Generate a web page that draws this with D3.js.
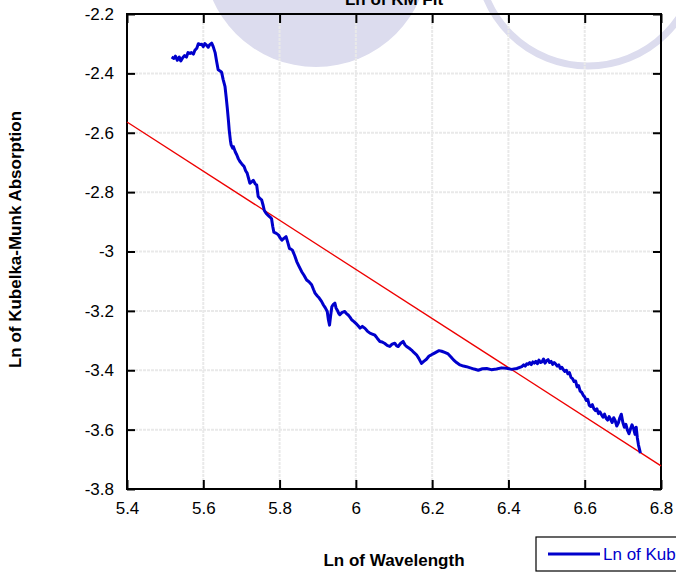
<!DOCTYPE html>
<html><head><meta charset="utf-8">
<script src="https://cdn.jsdelivr.net/npm/d3@7"></script>
<style>html,body{margin:0;padding:0;background:#fff;overflow:hidden}svg{display:block;font-family:Arial,"Liberation Sans",sans-serif}</style>
</head><body><svg id="c" width="676" height="573"></svg>
<script>
const xTicks = [5.4,5.6,5.8,6,6.2,6.4,6.6,6.8];
const yTicks = [-2.2,-2.4,-2.6,-2.8,-3,-3.2,-3.4,-3.6,-3.8];
const wavelength = [5.517,5.523,5.527,5.532,5.537,5.541,5.546,5.551,5.556,5.56,5.565,5.569,5.574,5.578,5.583,5.587,5.592,5.596,5.6,5.604,5.609,5.613,5.617,5.622,5.626,5.631,5.635,5.639,5.644,5.648,5.652,5.657,5.66,5.663,5.666,5.668,5.671,5.673,5.677,5.679,5.684,5.688,5.692,5.696,5.701,5.707,5.711,5.715,5.719,5.722,5.727,5.731,5.736,5.74,5.744,5.749,5.753,5.757,5.76,5.765,5.77,5.775,5.779,5.782,5.785,5.79,5.797,5.802,5.806,5.812,5.817,5.822,5.826,5.83,5.834,5.84,5.845,5.851,5.858,5.864,5.871,5.877,5.884,5.889,5.893,5.899,5.904,5.91,5.915,5.92,5.925,5.928,5.931,5.934,5.937,5.941,5.945,5.948,5.951,5.955,5.958,5.964,5.971,5.976,5.98,5.985,5.989,5.995,6.0,6.006,6.011,6.017,6.024,6.03,6.037,6.043,6.05,6.056,6.063,6.069,6.076,6.082,6.089,6.095,6.102,6.107,6.111,6.117,6.124,6.129,6.133,6.14,6.146,6.152,6.159,6.165,6.172,6.178,6.185,6.192,6.198,6.205,6.212,6.218,6.225,6.233,6.242,6.25,6.256,6.264,6.273,6.282,6.29,6.3,6.31,6.321,6.332,6.343,6.355,6.369,6.382,6.395,6.408,6.422,6.435,6.44,6.444,6.448,6.452,6.456,6.46,6.464,6.468,6.472,6.476,6.48,6.484,6.488,6.492,6.496,6.5,6.504,6.508,6.512,6.516,6.52,6.524,6.528,6.532,6.536,6.54,6.544,6.548,6.552,6.556,6.56,6.564,6.568,6.572,6.576,6.58,6.584,6.588,6.592,6.596,6.6,6.604,6.608,6.612,6.616,6.62,6.624,6.628,6.632,6.636,6.64,6.644,6.648,6.652,6.656,6.66,6.664,6.668,6.672,6.676,6.68,6.684,6.688,6.692,6.696,6.7,6.704,6.708,6.712,6.716,6.72,6.724,6.728,6.732,6.735,6.738,6.741,6.744,6.746];
const absorption = [-2.345,-2.35,-2.342,-2.356,-2.345,-2.358,-2.347,-2.34,-2.345,-2.33,-2.333,-2.33,-2.335,-2.322,-2.315,-2.3,-2.303,-2.302,-2.31,-2.3,-2.306,-2.312,-2.303,-2.298,-2.31,-2.33,-2.36,-2.388,-2.392,-2.396,-2.42,-2.445,-2.48,-2.518,-2.56,-2.591,-2.625,-2.641,-2.652,-2.647,-2.665,-2.675,-2.688,-2.697,-2.705,-2.714,-2.728,-2.736,-2.755,-2.77,-2.765,-2.76,-2.772,-2.776,-2.815,-2.822,-2.826,-2.845,-2.862,-2.872,-2.878,-2.884,-2.89,-2.915,-2.935,-2.938,-2.944,-2.955,-2.962,-2.955,-2.95,-2.972,-2.99,-2.992,-2.996,-3.015,-3.034,-3.05,-3.068,-3.08,-3.096,-3.102,-3.112,-3.128,-3.14,-3.15,-3.157,-3.168,-3.18,-3.19,-3.202,-3.23,-3.248,-3.215,-3.186,-3.178,-3.174,-3.19,-3.197,-3.208,-3.213,-3.205,-3.202,-3.21,-3.214,-3.222,-3.23,-3.236,-3.242,-3.25,-3.258,-3.252,-3.259,-3.268,-3.275,-3.278,-3.282,-3.292,-3.303,-3.305,-3.31,-3.316,-3.32,-3.312,-3.309,-3.318,-3.32,-3.31,-3.303,-3.315,-3.32,-3.326,-3.332,-3.34,-3.348,-3.36,-3.377,-3.37,-3.363,-3.352,-3.348,-3.343,-3.338,-3.334,-3.336,-3.34,-3.345,-3.356,-3.365,-3.374,-3.382,-3.386,-3.388,-3.392,-3.396,-3.4,-3.395,-3.394,-3.398,-3.396,-3.392,-3.393,-3.397,-3.394,-3.388,-3.382,-3.386,-3.378,-3.38,-3.374,-3.381,-3.372,-3.376,-3.37,-3.378,-3.366,-3.374,-3.372,-3.362,-3.376,-3.368,-3.364,-3.374,-3.37,-3.38,-3.374,-3.379,-3.386,-3.382,-3.394,-3.39,-3.398,-3.404,-3.4,-3.412,-3.408,-3.424,-3.428,-3.438,-3.436,-3.456,-3.452,-3.47,-3.474,-3.484,-3.49,-3.502,-3.498,-3.518,-3.522,-3.516,-3.53,-3.536,-3.53,-3.546,-3.54,-3.55,-3.558,-3.548,-3.562,-3.568,-3.556,-3.566,-3.576,-3.56,-3.57,-3.588,-3.578,-3.56,-3.548,-3.576,-3.592,-3.582,-3.602,-3.614,-3.598,-3.584,-3.596,-3.616,-3.592,-3.628,-3.652,-3.668,-3.679];
const fitX = [5.4, 6.8];
const fitY = [-2.564, -3.722];
const seriesName = "Ln of Kubelka-Munk Absorption";
const xTitle = "Ln of Wavelength";
const yTitle = "Ln of Kubelka-Munk Absorption";
const chartTitle = "Ln of KM Fit";

const svg = d3.select("#c");
const L = 127, R = 661, T = 14, B = 489;
const x = d3.scaleLinear().domain([5.4, 6.8]).range([L, R]);
const y = d3.scaleLinear().domain([-3.8, -2.2]).range([B, T]);

// watermark circles
svg.append("circle").attr("cx", 316).attr("cy", -46).attr("r", 113).attr("fill", "#dcdcee");
svg.append("circle").attr("cx", 588).attr("cy", -44).attr("r", 110).attr("fill", "none").attr("stroke", "#dcdcee").attr("stroke-width", 7);

svg.append("text").attr("x", (L+R)/2).attr("y", 5).attr("text-anchor", "middle")
  .attr("font-size", 17).attr("font-weight", "bold").text(chartTitle);

// grid
const grid = svg.append("g");
grid.selectAll("line.gx").data(xTicks.slice(1, -1)).join("line")
  .attr("x1", d => x(d)).attr("x2", d => x(d)).attr("y1", T).attr("y2", B)
  .attr("stroke", "#e9e9e9").attr("stroke-width", 2).attr("stroke-dasharray", "3,1");
grid.selectAll("line.gy").data(yTicks.slice(1, -1)).join("line")
  .attr("y1", d => y(d)).attr("y2", d => y(d)).attr("x1", L).attr("x2", R)
  .attr("stroke", "#e9e9e9").attr("stroke-width", 2).attr("stroke-dasharray", "3,1");

// axes
const fmt = d => String(d);
const ax = (g, axis) => { g.call(axis); g.select(".domain").remove(); g.selectAll(".tick line").attr("stroke", "#000").attr("stroke-width", 2); };
svg.append("g").attr("transform", `translate(0,${B})`).call(g => ax(g, d3.axisBottom(x).tickValues(xTicks).tickFormat(fmt).tickSize(-9).tickPadding(13)))
  .selectAll("text").attr("font-size", 17).attr("fill", "#000").attr("font-family", "Arial, Liberation Sans, sans-serif");
svg.append("g").attr("transform", `translate(0,${T})`).call(g => ax(g, d3.axisTop(x).tickValues(xTicks).tickFormat("").tickSize(-9)));
svg.append("g").attr("transform", `translate(${L},0)`).call(g => ax(g, d3.axisLeft(y).tickValues(yTicks).tickFormat(fmt).tickSize(-8).tickPadding(13)))
  .selectAll("text").attr("font-size", 17).attr("fill", "#000").attr("font-family", "Arial, Liberation Sans, sans-serif");
svg.append("g").attr("transform", `translate(${R},0)`).call(g => ax(g, d3.axisRight(y).tickValues(yTicks).tickFormat("").tickSize(-8)));

svg.append("rect").attr("x", L).attr("y", T).attr("width", R-L).attr("height", B-T)
  .attr("fill", "none").attr("stroke", "#000").attr("stroke-width", 2);

// fit line
svg.append("line").attr("x1", x(fitX[0])).attr("y1", y(fitY[0])).attr("x2", x(fitX[1])).attr("y2", y(fitY[1]))
  .attr("stroke", "#ee0000").attr("stroke-width", 1.3);

// data curve
const pts = wavelength.map((w, i) => [w, absorption[i]]);
svg.append("path").datum(pts).attr("fill", "none").attr("stroke", "#0000cc").attr("stroke-width", 3)
  .attr("stroke-linejoin", "round")
  .attr("d", d3.line().x(d => x(d[0])).y(d => y(d[1])));

// titles
svg.append("text").attr("x", (L+R)/2).attr("y", 566).attr("text-anchor", "middle")
  .attr("font-size", 17).attr("font-weight", "bold").text(xTitle);
svg.append("text").attr("transform", `translate(21,${(T+B)/2 - 12}) rotate(-90)`).attr("text-anchor", "middle")
  .attr("font-size", 17).attr("font-weight", "bold").text(yTitle);

// legend
const lg = svg.append("g");
lg.append("rect").attr("x", 536).attr("y", 537).attr("width", 160).attr("height", 34)
  .attr("fill", "#fff").attr("stroke", "#000").attr("stroke-width", 1.2);
lg.append("line").attr("x1", 548).attr("x2", 600).attr("y1", 554).attr("y2", 554)
  .attr("stroke", "#0000cc").attr("stroke-width", 3);
lg.append("text").attr("x", 603).attr("y", 560).attr("font-size", 17).attr("fill", "#0000cc").text(seriesName);
</script></body></html>
